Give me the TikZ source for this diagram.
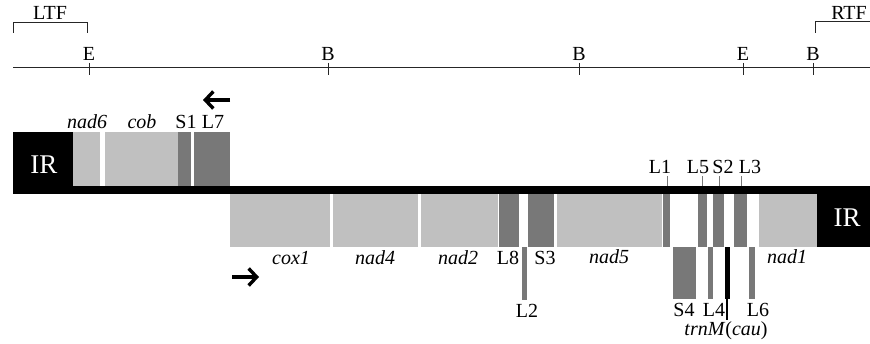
\documentclass[tikz,border=0pt]{standalone}
\usepackage{fontspec}
\setmainfont{Liberation Serif}
\usetikzlibrary{arrows.meta}
\definecolor{genelight}{HTML}{C0C0C0}
\definecolor{genedark}{HTML}{787878}

% filled segment of the map: x1, x2, y1, y2, style
\newcommand\genebox[5]{\fill[#5] (#1,#3) rectangle (#2,#4);}

\begin{document}
\begin{tikzpicture}[x=1pt,y=-1pt,
  lab/.style={font=\fontsize{20}{22}\selectfont, inner sep=0pt, anchor=base},
  glab/.style={lab, font=\fontsize{20}{22}\selectfont\itshape},
  irlab/.style={font=\fontsize{27}{30}\selectfont, text=white, inner sep=0pt, anchor=base},
  light/.style={fill=genelight},
  dark/.style={fill=genedark},
  scaleline/.style={draw=black!85, line width=1pt},
  pointer/.style={draw=genedark, line width=1pt},
  dirarrow/.style={line width=3.4pt, -{Straight Barb[length=8pt,width=17pt,line width=3.4pt]}}]

\useasboundingbox (0,0) rectangle (870,344);

% ---- restriction map ----
\draw[scaleline] (13,68) -- (870,68);
\foreach \xx/\nm/\tx in {89/e1/E, 328/b1/B, 579/b2/B, 743/e2/E, 813/b3/B}{
  \node[lab] (\nm) at (\xx,61) {\tx};
  \draw[scaleline] (\xx,63) -- (\xx,75);
}
\node[lab] (ltf) at (50,20) {LTF};
\node[lab] (rtf) at (849,20) {RTF};
\draw[scaleline] (13,33) -- (13,23) -- (87,23) -- (87,33);
\draw[scaleline] (815,33) -- (815,22) -- (870,22);

% ---- backbone and inverted repeats ----
\genebox{13}{870}{186}{194}{fill=black}
\genebox{13}{73}{132}{194}{fill=black}
\genebox{817}{870}{186}{247}{fill=black}
\node[irlab] (irl) at (44,174) {IR};
\node[irlab] (irr) at (847,227) {IR};

% ---- upper strand ----
\genebox{73}{100}{132}{186}{light}
\genebox{105}{178}{132}{186}{light}
\genebox{178}{191}{132}{186}{dark}
\genebox{194}{230}{132}{186}{dark}
\node[glab] (nad6) at (87,129) {nad6};
\node[glab] (cob) at (142,129) {cob};
\node[lab] (s1) at (186,129) {S1};
\node[lab] (l7) at (213,129) {L7};
\coordinate (upA) at (230,100);
\coordinate (upB) at (203,100);
\draw[dirarrow] (upA) -- (upB);

% ---- lower strand ----
\genebox{230}{330}{194}{247}{light}
\genebox{333}{418}{194}{247}{light}
\genebox{421}{498}{194}{247}{light}
\genebox{499}{519}{194}{247}{dark}
\genebox{522}{527}{247}{300}{dark}
\genebox{528}{554}{194}{247}{dark}
\genebox{557}{662}{194}{247}{light}
\genebox{663}{670}{194}{247}{dark}
\genebox{698}{707}{194}{247}{dark}
\genebox{713}{724}{194}{247}{dark}
\genebox{734}{747}{194}{247}{dark}
\genebox{759}{817}{194}{247}{light}
\genebox{673}{696}{247}{299}{dark}
\genebox{708}{713}{247}{299}{dark}
\genebox{725}{730}{247}{299}{fill=black}
\genebox{749}{755}{247}{299}{dark}

\node[glab] (cox1) at (291,265) {cox1};
\node[glab] (nad4) at (375,265) {nad4};
\node[glab] (nad2) at (458,265) {nad2};
\node[lab] (l8) at (508,265) {L8};
\node[lab] (s3) at (545,265) {S3};
\node[glab] (nad5) at (609,264) {nad5};
\node[glab] (nad1) at (787,264) {nad1};
\node[lab] (l2) at (527,318) {L2};
\node[lab] (s4) at (684,317) {S4};
\node[lab] (l4) at (714,317) {L4};
\node[lab] (l6) at (758,317) {L6};
\node[lab] (trnm) at (726,336) {\textit{trnM}(\textit{cau})};

% short tRNA genes named above the backbone
\node[lab] (l1) at (660,174) {L1};
\node[lab] (l5) at (698,174) {L5};
\node[lab] (s2) at (723,174) {S2};
\node[lab] (l3) at (750,174) {L3};
\coordinate (t1) at (667,186);
\coordinate (t5) at (702,186);
\coordinate (t2) at (719,186);
\coordinate (t3) at (741,186);
\draw[pointer] (t1) -- ++(0,-10);
\draw[pointer] (t5) -- ++(0,-10);
\draw[pointer] (t2) -- ++(0,-10);
\draw[pointer] (t3) -- ++(0,-10);
\coordinate (tm) at (727,299);
\draw[line width=1.2pt] (tm) -- ++(0,21);

\coordinate (loA) at (232,277);
\coordinate (loB) at (259,277);
\draw[dirarrow] (loA) -- (loB);
\end{tikzpicture}
\end{document}
